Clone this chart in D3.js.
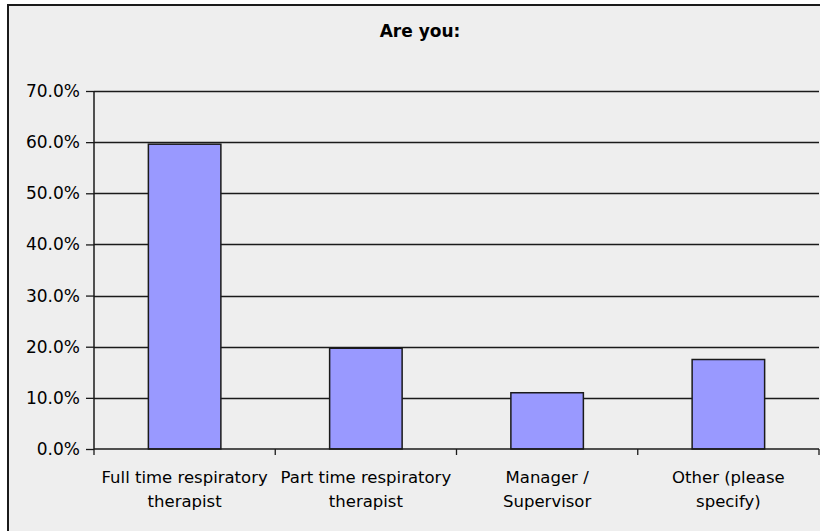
<!DOCTYPE html>
<html>
<head>
<meta charset="utf-8">
<script src="https://cdn.jsdelivr.net/npm/d3@7"></script>
<style>
  html, body { margin: 0; padding: 0; background: #ffffff; overflow: hidden; }
  svg { display: block; }
</style>
</head>
<body>
<svg id="chart" width="820" height="531"></svg>
<script>
const title = "Are you:";
const categories = [
  ["Full time respiratory", "therapist"],
  ["Part time respiratory", "therapist"],
  ["Manager /", "Supervisor"],
  ["Other (please", "specify)"]
];
const values = [0.596, 0.197, 0.110, 0.175];
const yTicks = [0, 0.1, 0.2, 0.3, 0.4, 0.5, 0.6, 0.7];

const svg = d3.select("#chart");
const W = 820, H = 531;
const font = "'DejaVu Sans', Verdana, sans-serif";

// outer frame (right and bottom edges lie outside the picture)
svg.append("rect")
  .attr("x", 8).attr("y", 5)
  .attr("width", W + 60).attr("height", H + 60)
  .attr("fill", "#eeeeee")
  .attr("stroke", "#1a1a1a").attr("stroke-width", 2);

const plot = { left: 94, right: 819, top: 91, bottom: 449 };

const x = d3.scaleBand()
  .domain(d3.range(categories.length))
  .range([plot.left, plot.right])
  .paddingInner(0.6).paddingOuter(0.3);
const xOuter = d3.scaleBand()
  .domain(d3.range(categories.length))
  .range([plot.left, plot.right]);

const y = d3.scaleLinear().domain([0, 0.7]).range([plot.bottom, plot.top]);

// title
svg.append("text")
  .attr("x", 420).attr("y", 37)
  .attr("text-anchor", "middle")
  .attr("font-family", font).attr("font-size", 17).attr("font-weight", "bold")
  .attr("fill", "#000")
  .text(title);

// gridlines
svg.append("g").selectAll("line")
  .data(yTicks.slice(1))
  .join("line")
  .attr("x1", plot.left).attr("x2", plot.right)
  .attr("y1", d => Math.round(y(d)) + 0.5).attr("y2", d => Math.round(y(d)) + 0.5)
  .attr("stroke", "#1a1a1a").attr("stroke-width", 1.3);

// y axis
const yAxis = d3.axisLeft(y)
  .tickValues(yTicks)
  .tickFormat(d3.format(".1%"))
  .tickSize(8).tickPadding(6);
const gy = svg.append("g")
  .attr("transform", `translate(${plot.left},0)`)
  .call(yAxis);
gy.select(".domain").attr("stroke", "#1a1a1a").attr("stroke-width", 1.5)
  .attr("d", `M0,${plot.top}V${plot.bottom}`);
gy.selectAll(".tick line").attr("stroke", "#1a1a1a").attr("stroke-width", 1.3);
gy.selectAll(".tick text")
  .attr("font-family", font).attr("font-size", 17).attr("fill", "#000");

// bars
svg.append("g").selectAll("rect")
  .data(values)
  .join("rect")
  .attr("x", (d, i) => x(i))
  .attr("width", x.bandwidth())
  .attr("y", d => y(d))
  .attr("height", d => y(0) - y(d))
  .attr("fill", "#9999ff")
  .attr("stroke", "#1a1a1a").attr("stroke-width", 1.5);

// x axis line & boundary ticks
const gx = svg.append("g");
gx.append("line")
  .attr("x1", plot.left).attr("x2", plot.right)
  .attr("y1", plot.bottom).attr("y2", plot.bottom)
  .attr("stroke", "#1a1a1a").attr("stroke-width", 1.5);
const bounds = d3.range(categories.length + 1).map(i =>
  i < categories.length ? xOuter(i) : xOuter(i - 1) + xOuter.bandwidth());
gx.selectAll("line.tick")
  .data(bounds)
  .join("line").attr("class", "tick")
  .attr("x1", d => d).attr("x2", d => d)
  .attr("y1", plot.bottom).attr("y2", plot.bottom + 6)
  .attr("stroke", "#1a1a1a").attr("stroke-width", 1.3);

// category labels
const labels = svg.append("g").selectAll("text")
  .data(categories)
  .join("text")
  .attr("text-anchor", "middle")
  .attr("font-family", font).attr("font-size", 16.5).attr("fill", "#000")
  .attr("transform", (d, i) => `translate(${xOuter(i) + xOuter.bandwidth() / 2},483)`);
labels.selectAll("tspan")
  .data(d => d)
  .join("tspan")
  .attr("x", 0)
  .attr("dy", (d, j) => j === 0 ? 0 : 23.5)
  .text(d => d);
</script>
</body>
</html>
